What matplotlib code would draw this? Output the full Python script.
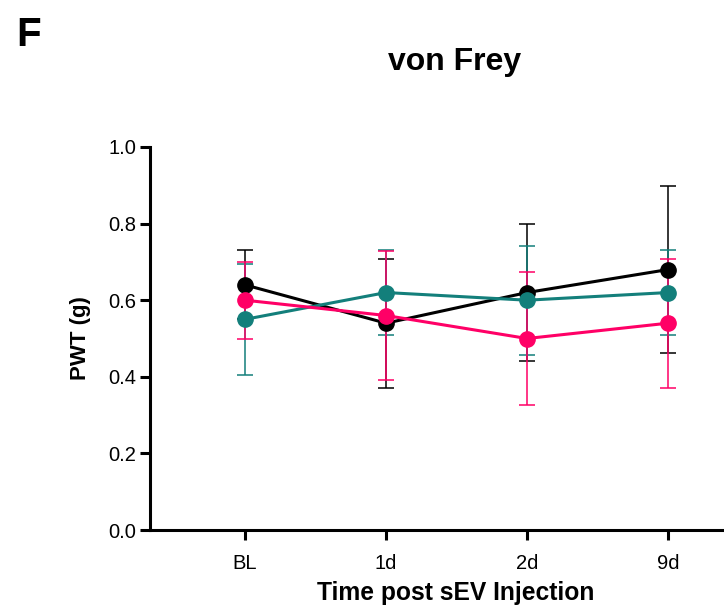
import numpy as np
import matplotlib
matplotlib.use("Agg")
import matplotlib.pyplot as plt

plt.rcParams["font.family"] = ["Liberation Sans", "DejaVu Sans"]

# data
timepoints = ["BL", "1d", "2d", "9d"]
black_mean = [0.64, 0.54, 0.62, 0.68]
black_err = [0.09, 0.168, 0.18, 0.218]
teal_mean = [0.55, 0.62, 0.60, 0.62]
teal_err = [0.145, 0.11, 0.142, 0.11]
pink_mean = [0.60, 0.56, 0.50, 0.54]
pink_err = [0.10, 0.168, 0.173, 0.168]

series = [
    (black_mean, black_err, "#000000"),
    (teal_mean, teal_err, "#137F7B"),
    (pink_mean, pink_err, "#FF0066"),
]

fig = plt.figure(figsize=(7.24, 6.15), dpi=100)
ax = fig.add_axes([150 / 724, 1 - 530 / 615, 1 - 150 / 724, (530 - 147) / 615])

x = np.arange(len(timepoints))
for mean, err, col in series:
    ax.errorbar(x, mean, yerr=err, color=col, lw=2.2, marker="o", ms=11,
                elinewidth=1.1, capsize=6, capthick=1.1, clip_on=False)

ax.set_xlim(-0.674, 3.397)
ax.set_ylim(0, 1.0)
ax.set_yticks(np.arange(0, 1.01, 0.2))
ax.set_yticklabels([f"{v:.1f}" for v in np.arange(0, 1.01, 0.2)])
ax.set_xticks(x)
ax.set_xticklabels(timepoints)

for side in ["top", "right"]:
    ax.spines[side].set_visible(False)
for side in ["left", "bottom"]:
    ax.spines[side].set_linewidth(2.2)
ax.tick_params(axis="both", width=2.2, length=7, labelsize=14.5, pad=3)
ax.tick_params(axis="x", pad=10)

ax.set_ylabel("PWT (g)", fontsize=16, fontweight="bold", labelpad=12)
ax.set_xlabel("Time post sEV Injection", fontsize=17.7, fontweight="bold", labelpad=6)
ax.xaxis.label.set_x((456 - 150) / 574)

fig.text(455 / 724, 1 - 62 / 615, "von Frey", fontsize=23, fontweight="bold",
         ha="center", va="center")
fig.text(16 / 724, 1 - 35 / 615, "F", fontsize=29, fontweight="bold",
         ha="left", va="center")

fig.savefig("out.png", dpi=100)
